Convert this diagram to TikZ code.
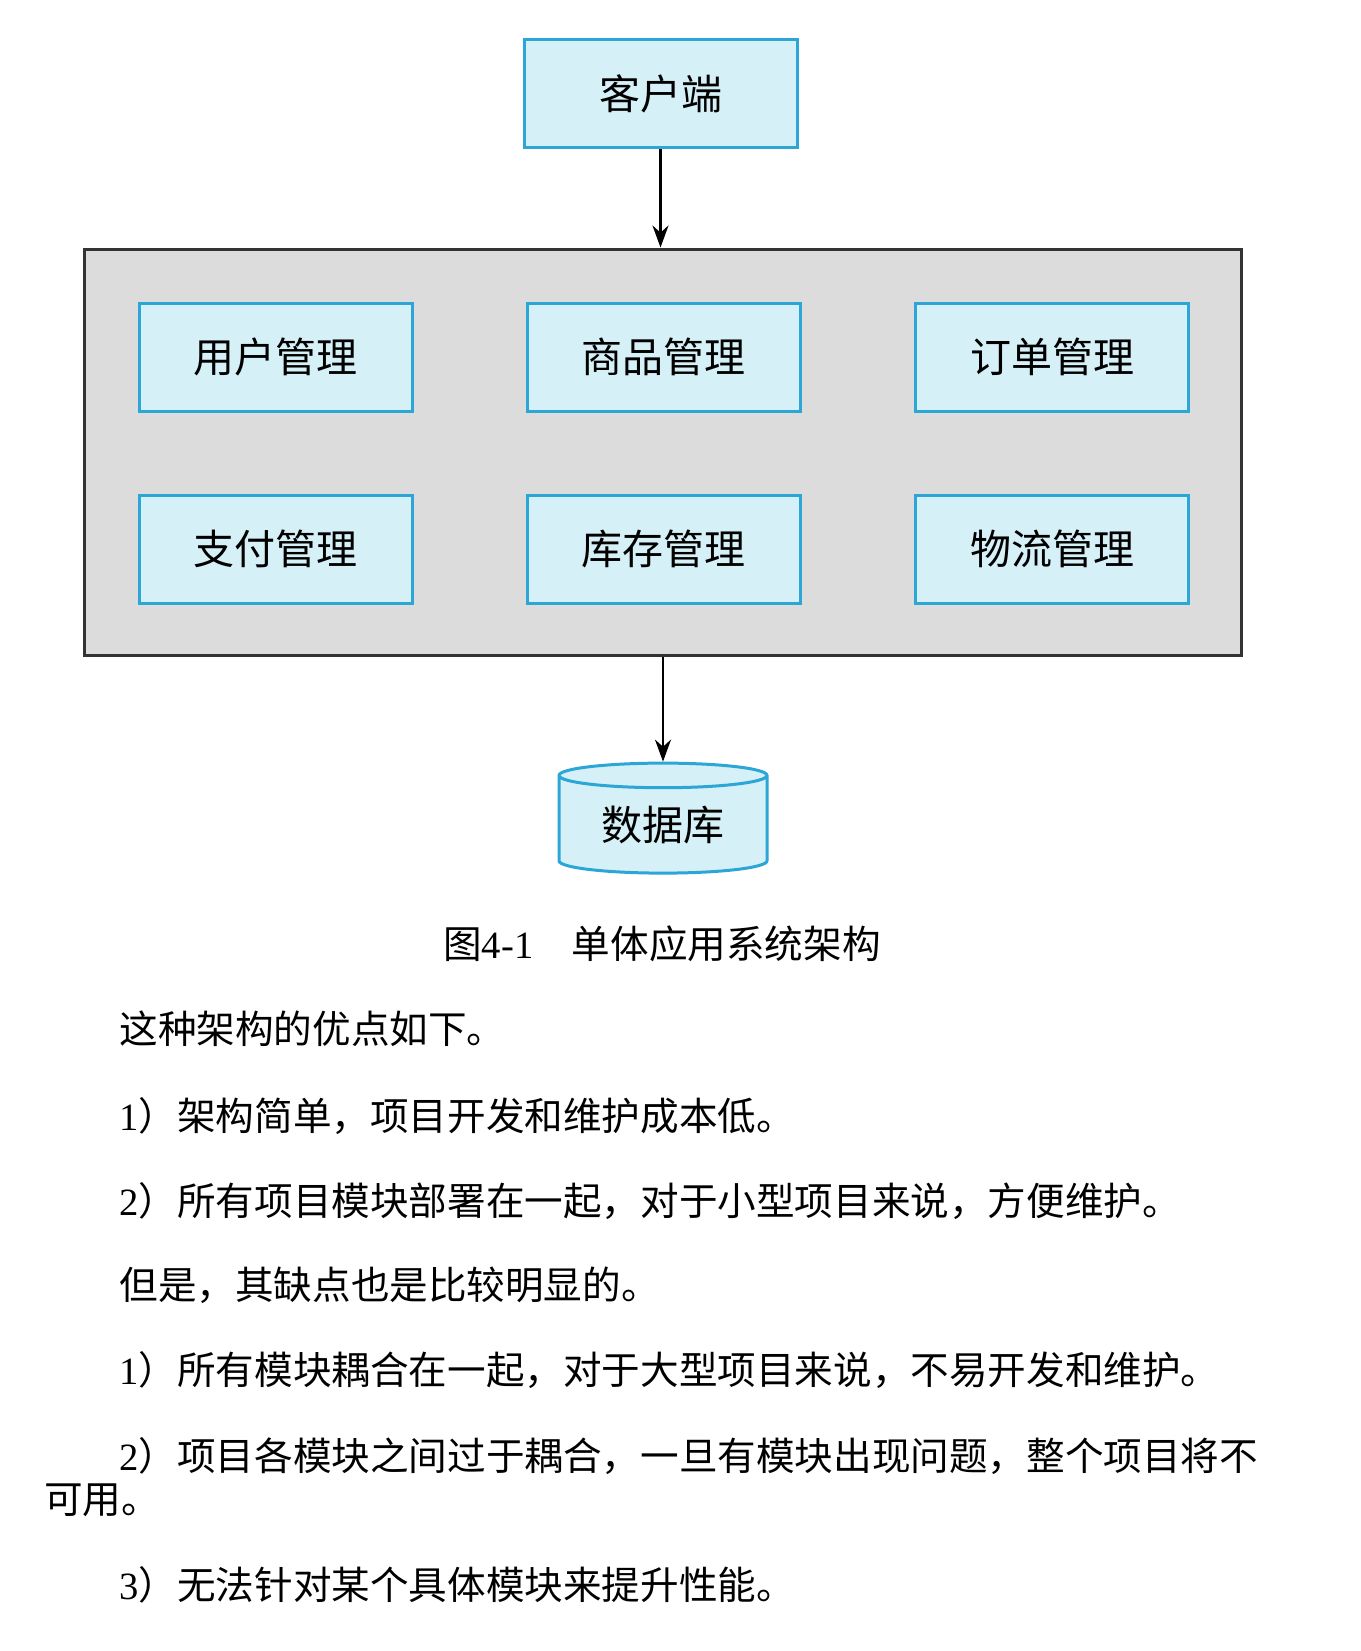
\documentclass[tikz,border=0pt]{standalone}
\usepackage{fontspec}
\setmainfont{Liberation Serif}
\newfontfamily\cjk{Noto Sans CJK SC}
\usetikzlibrary{shapes.geometric, arrows.meta, positioning}
\definecolor{boxfill}{HTML}{D6F0F8}
\definecolor{boxline}{HTML}{2CA6D6}
\definecolor{panelfill}{HTML}{DCDCDC}
\definecolor{panelline}{HTML}{333333}

\begin{document}
\begin{tikzpicture}[x=0.5pt, y=-0.5pt,
  module/.style={draw=boxline, fill=boxfill, line width=1.5pt, minimum width=136.5pt, minimum height=54pt, inner sep=0pt, font=\cjk\fontsize{20.5}{24}\selectfont},
  panel/.style={draw=panelline, fill=panelfill, line width=1.5pt, minimum width=578.5pt, minimum height=203pt, inner sep=0pt},
  dbase/.style={cylinder, shape border rotate=90, aspect=0.2, draw=boxline, fill=boxfill, line width=1.5pt, minimum width=104pt, minimum height=55pt, inner sep=0pt, font=\cjk\fontsize{20.5}{24}\selectfont},
  flow/.style={-{Stealth[length=11pt, width=8pt]}, line width=1.2pt},
  para/.style={anchor=west, inner sep=0pt, font=\cjk\fontsize{19.3}{22}\selectfont}]
\useasboundingbox (0,0) rectangle (1361,1651);
% Client and the monolith panel
\node[module] (client) at (660.5,93.5) {客户端};
\node[panel] (mono) at (662.5,452) {};
% Modules, two rows of three
\node[module] (user) at (275.5,357) {用户管理};
\node[module] (goods) at (663.5,357) {商品管理};
\node[module] (order) at (1052,357) {订单管理};
\node[module] (pay) at (275.5,549) {支付管理};
\node[module] (stock) at (663.5,549) {库存管理};
\node[module] (ship) at (1052,549) {物流管理};
% Database
\node[dbase] (db) at (663,825) {数据库};
\draw[flow] (client.south) -- (client.south |- mono.north);
\draw[flow] (db.north |- mono.south) -- (db.north);
% Caption
\node[para, anchor=center] (cap) at (662,944) {图\textrm{4-1}\quad 单体应用系统架构};
% Body text
\node[para] (p1) at (119,1029) {这种架构的优点如下。};
\node[para] (p2) at (119,1116) {\textrm{1}）架构简单，项目开发和维护成本低。};
\node[para] (p3) at (119,1201) {\textrm{2}）所有项目模块部署在一起，对于小型项目来说，方便维护。};
\node[para] (p4) at (119,1285) {但是，其缺点也是比较明显的。};
\node[para] (p5) at (119,1370) {\textrm{1}）所有模块耦合在一起，对于大型项目来说，不易开发和维护。};
\node[para] (p6) at (119,1456) {\textrm{2}）项目各模块之间过于耦合，一旦有模块出现问题，整个项目将不};
\node[para] (p7) at (44,1500) {可用。};
\node[para] (p8) at (119,1585) {\textrm{3}）无法针对某个具体模块来提升性能。};
\end{tikzpicture}
\end{document}
